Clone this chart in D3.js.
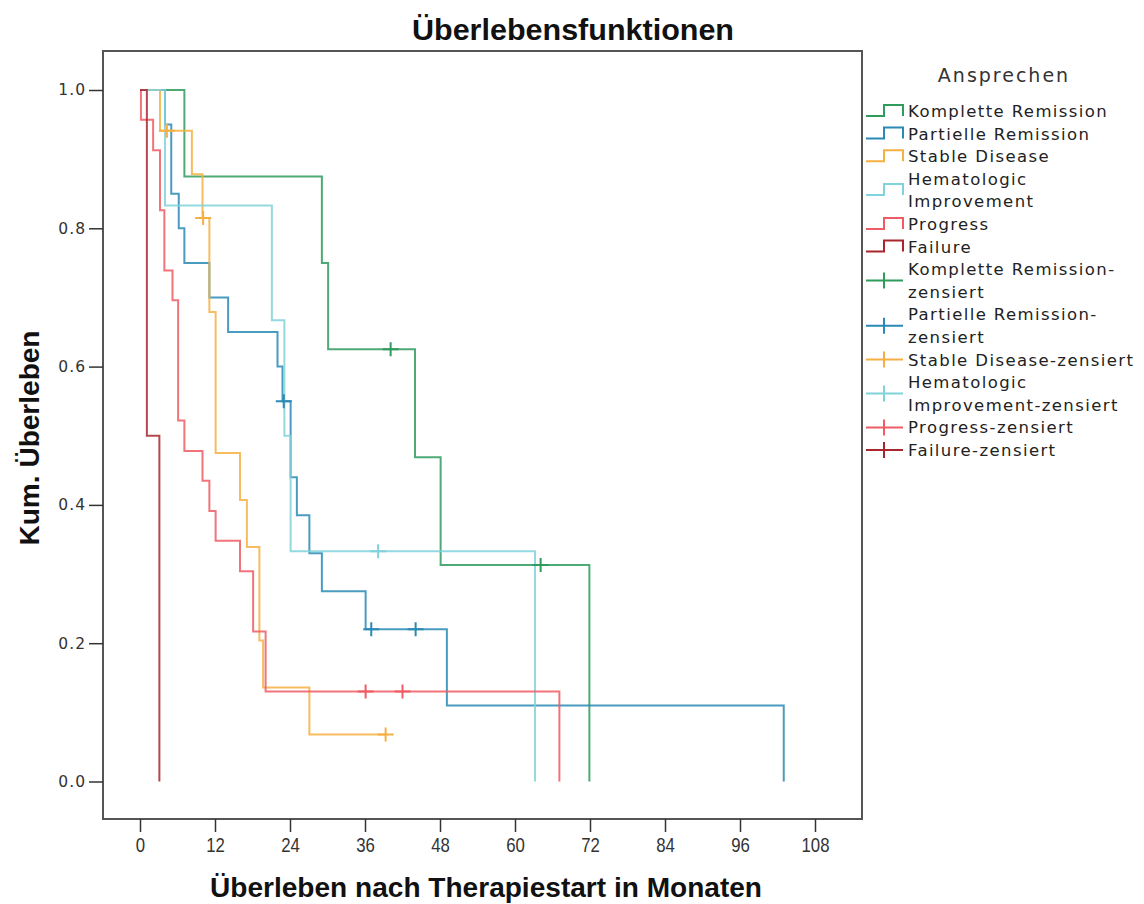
<!DOCTYPE html>
<html>
<head>
<meta charset="utf-8">
<script src="https://cdn.jsdelivr.net/npm/d3@7"></script>
<style>
  html, body { margin: 0; padding: 0; background: #fff; }
  svg { display: block; }
</style>
</head>
<body>
<svg id="chart" width="1144" height="904"></svg>
<script>
// Kaplan-Meier survival by response group (months after start of therapy)
const groupNames = ["Komplette Remission", "Partielle Remission", "Stable Disease",
                    "Hematologic Improvement", "Progress", "Failure"];
const groupColors = ["#2f9b5d", "#2a89b5", "#f6b042", "#80d2db", "#ef5c64", "#a8272f"];

// step times (months) and cumulative survival after each step
const kompletteTimes = [0, 7.1, 29.1, 30.1, 44, 48.1, 71.9];
const kompletteSurv  = [1, 0.875, 0.75, 0.625, 0.469, 0.313, 0];
const kompletteCens  = [40.1, 64.1];

const partielleTimes = [0, 4, 5, 6.2, 7.1, 11.1, 14.1, 22, 22.8, 24.1, 25.1, 27.1, 29.1, 36.1, 49.1, 103];
const partielleSurv  = [1, 0.95, 0.85, 0.8, 0.75, 0.7, 0.65, 0.6, 0.55, 0.44, 0.385, 0.33, 0.275, 0.22, 0.11, 0];
const partielleCens  = [23, 37, 44.1];

const stableTimes = [0, 3.2, 8.3, 10, 11.1, 12.1, 16, 17.1, 19.1, 19.7, 27.1];
const stableSurv  = [1, 0.941, 0.878, 0.815, 0.679, 0.475, 0.407, 0.339, 0.204, 0.136, 0.068];
const stableCens  = [4.3, 10.1, 39.3];

const hematoTimes = [0, 4, 21.1, 23.1, 24.1, 63.2];
const hematoSurv  = [1, 0.833, 0.667, 0.5, 0.333, 0];
const hematoCens  = [38.1];

const progressTimes = [0, 0.15, 2.1, 3.2, 3.9, 5.2, 6.1, 7.1, 10, 11.1, 12.1, 16, 18.1, 20.1, 67.1];
const progressSurv  = [1, 0.957, 0.913, 0.826, 0.739, 0.696, 0.522, 0.478, 0.435, 0.391, 0.348, 0.304, 0.217, 0.13, 0];
const progressCens  = [36.1, 42];

const failureTimes = [0, 1.1, 3.1];
const failureSurv  = [1, 0.5, 0];
const failureCens  = [];

const xTicks = [0, 12, 24, 36, 48, 60, 72, 84, 96, 108];
const yTicks = [0, 0.2, 0.4, 0.6, 0.8, 1.0];

const groups = [
  { times: kompletteTimes, surv: kompletteSurv, cens: kompletteCens },
  { times: partielleTimes, surv: partielleSurv, cens: partielleCens },
  { times: stableTimes,    surv: stableSurv,    cens: stableCens },
  { times: hematoTimes,    surv: hematoSurv,    cens: hematoCens },
  { times: progressTimes,  surv: progressSurv,  cens: progressCens },
  { times: failureTimes,   surv: failureSurv,   cens: failureCens }
].map((g, i) => Object.assign(g, { name: groupNames[i], color: groupColors[i] }));

const svg = d3.select("#chart");
const frame = { left: 103, right: 862, top: 51, bottom: 819 };

const x = d3.scaleLinear().domain([0, 108]).range([140, 815]);
const y = d3.scaleLinear().domain([0, 1]).range([781.5, 90]);

const bodyFont = "'DejaVu Sans', Verdana, sans-serif";
const narrowFont = "'Liberation Sans Narrow', 'Liberation Sans', Arial, sans-serif";

// title
svg.append("text")
  .attr("x", 573).attr("y", 40)
  .attr("text-anchor", "middle")
  .attr("font-family", narrowFont).attr("font-weight", "bold")
  .attr("font-size", 29)
  .attr("textLength", 322).attr("lengthAdjust", "spacingAndGlyphs")
  .attr("fill", "#111")
  .text("Überlebensfunktionen");

// plot frame
svg.append("rect")
  .attr("x", frame.left).attr("y", frame.top)
  .attr("width", frame.right - frame.left).attr("height", frame.bottom - frame.top)
  .attr("fill", "#fff").attr("stroke", "#555").attr("stroke-width", 2);

// y axis
const yAxis = d3.axisLeft(y).tickValues(yTicks).tickFormat(d3.format(".1f"))
  .tickSize(14).tickPadding(3);
const gy = svg.append("g").attr("transform", `translate(${frame.left},0)`).call(yAxis);
gy.attr("font-size", null).attr("font-family", null);
gy.select(".domain").remove();
gy.selectAll(".tick line").attr("stroke", "#333").attr("stroke-width", 1.5);
gy.selectAll(".tick text")
  .style("font-family", bodyFont).style("font-size", "15.5px")
  .style("letter-spacing", "1px").attr("fill", "#333");

// x axis
const xAxis = d3.axisBottom(x).tickValues(xTicks).tickSize(13).tickPadding(6);
const gx = svg.append("g").attr("transform", `translate(0,${frame.bottom})`).call(xAxis);
gx.attr("font-size", null).attr("font-family", null);
gx.select(".domain").remove();
gx.selectAll(".tick line").attr("stroke", "#333").attr("stroke-width", 1.5);
gx.selectAll(".tick text")
  .style("font-family", narrowFont).style("font-size", "20px")
  .attr("transform", "scale(0.84,1)")
  .attr("fill", "#333");

// axis titles
svg.append("text")
  .attr("x", 486).attr("y", 897)
  .attr("text-anchor", "middle")
  .attr("font-family", narrowFont).attr("font-weight", "bold").attr("font-size", 27)
  .attr("textLength", 552).attr("lengthAdjust", "spacingAndGlyphs")
  .attr("fill", "#111")
  .text("Überleben nach Therapiestart in Monaten");

svg.append("text")
  .attr("transform", "translate(39,438) rotate(-90)")
  .attr("text-anchor", "middle")
  .attr("font-family", narrowFont).attr("font-weight", "bold").attr("font-size", 27)
  .attr("textLength", 215).attr("lengthAdjust", "spacingAndGlyphs")
  .attr("fill", "#111")
  .text("Kum. Überleben");

// survival curves
const plot = svg.append("g");
const stepLine = d3.line().curve(d3.curveStepAfter).x(d => x(d[0])).y(d => y(d[1]));

function survivalAt(g, t) {
  let s = g.surv[0];
  for (let i = 0; i < g.times.length; i++) if (g.times[i] <= t) s = g.surv[i];
  return s;
}

groups.forEach(g => {
  const pts = g.times.map((t, i) => [t, g.surv[i]]);
  const lastT = g.times[g.times.length - 1];
  const lastCens = g.cens.length ? d3.max(g.cens) : -Infinity;
  if (lastCens > lastT) pts.push([lastCens, g.surv[g.surv.length - 1]]);
  plot.append("path")
    .attr("d", stepLine(pts))
    .attr("fill", "none")
    .attr("stroke", g.color)
    .attr("stroke-width", 2)
    .attr("stroke-opacity", 0.85);
});

// censored observations
groups.forEach(g => {
  g.cens.forEach(c => {
    const cx = x(c), cy = y(survivalAt(g, c));
    plot.append("path")
      .attr("d", `M${cx - 8},${cy}H${cx + 8}M${cx},${cy - 7}V${cy + 7}`)
      .attr("stroke", g.color).attr("stroke-width", 2).attr("fill", "none");
  });
});

// legend
const legend = svg.append("g");
legend.append("text")
  .attr("x", 1004).attr("y", 82)
  .attr("text-anchor", "middle")
  .attr("font-family", bodyFont).attr("font-size", 19).attr("letter-spacing", 2)
  .attr("fill", "#333")
  .text("Ansprechen");

const legendItems = [];
groups.forEach((g, i) => legendItems.push({ color: g.color, kind: "step",
  lines: i === 3 ? ["Hematologic", "Improvement"] : [g.name] }));
const censLines = [["Komplette Remission-", "zensiert"], ["Partielle Remission-", "zensiert"],
                   ["Stable Disease-zensiert"], ["Hematologic", "Improvement-zensiert"],
                   ["Progress-zensiert"], ["Failure-zensiert"]];
groups.forEach((g, i) => legendItems.push({ color: g.color, kind: "cens", lines: censLines[i] }));

const lineH = 22.6;
let line = 0;
legendItems.forEach(item => {
  const firstY = 111 + line * lineH;
  const midY = firstY + (item.lines.length - 1) * lineH / 2;
  if (item.kind === "step") {
    legend.append("path")
      .attr("d", `M866,${midY + 5}H884V${midY - 6}H903V${midY + 5}`)
      .attr("fill", "none").attr("stroke", item.color).attr("stroke-width", 2);
  } else {
    legend.append("path")
      .attr("d", `M866,${midY}H903M884,${midY - 8}V${midY + 8}`)
      .attr("fill", "none").attr("stroke", item.color).attr("stroke-width", 2);
  }
  item.lines.forEach((txt, k) => {
    legend.append("text")
      .attr("x", 908).attr("y", firstY + k * lineH + 6)
      .attr("font-family", bodyFont).attr("font-size", 16.5).attr("letter-spacing", 1.4)
      .attr("fill", "#222")
      .text(txt);
  });
  line += item.lines.length;
});
</script>
</body>
</html>
